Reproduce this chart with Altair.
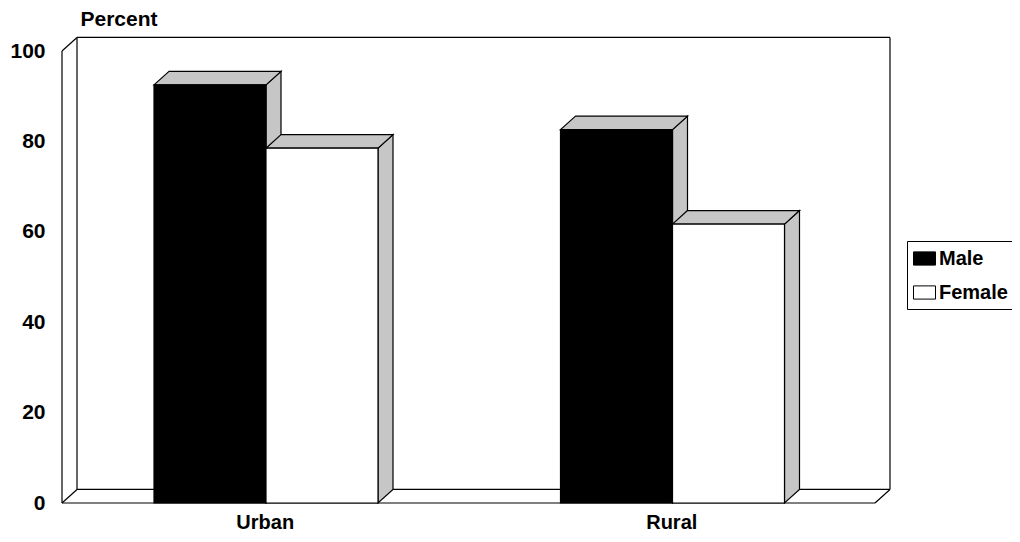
import altair as alt
import pandas as pd

categories = ["Urban", "Rural"]
series = ["Male", "Female"]
male = [92.5, 82.6]
female = [78.5, 61.7]
y_ticks = [0, 20, 40, 60, 80, 100]

FONT = "Liberation Sans"
GRAY = "#c6c6c6"
PX_PER_CAT = 406.5
PX_PER_UNIT = 4.52
PAD_L, PAD_R, PAD_T, PAD_B = 54, 0, 0, 22
W, H = 950, 504
BAR = 112 / PX_PER_CAT
DX = 15 / PX_PER_CAT
DY = 3.0
GAP = 92 / PX_PER_CAT
TOP = 103.0

fronts, sides, tops = [], [], []
for i, cat in enumerate(categories):
    for j, (s, vals) in enumerate(zip(series, [male, female])):
        x0 = i + GAP + j * BAR
        x1 = x0 + BAR
        v = vals[i]
        k = f"{cat}-{s}"
        order = i * 2 + j
        fronts.append(dict(k=k, s=s, x0=x0, x1=x1, v=v, base=0, o=order))
        sides += [
            dict(k=k, x=x1, y=v, y2=0, o=order),
            dict(k=k, x=x1 + DX, y=v + DY, y2=DY, o=order),
        ]
        tops += [
            dict(k=k, y=v, x=x0, x2=x1, o=order),
            dict(k=k, y=v + DY, x=x0 + DX, x2=x1 + DX, o=order),
        ]
fronts = pd.DataFrame(fronts)
sides = pd.DataFrame(sides)
tops = pd.DataFrame(tops)

edges = pd.DataFrame(
    [
        dict(x=0, y=0, x2=0, y2=100),
        dict(x=0, y=100, x2=DX, y2=TOP),
        dict(x=DX, y=TOP, x2=2 + DX, y2=TOP),
        dict(x=DX, y=DY, x2=DX, y2=TOP),
        dict(x=2 + DX, y=DY, x2=2 + DX, y2=TOP),
        dict(x=0, y=0, x2=DX, y2=DY),
        dict(x=DX, y=DY, x2=2 + DX, y2=DY),
        dict(x=0, y=0, x2=2, y2=0),
        dict(x=2, y=0, x2=2 + DX, y2=DY),
    ]
)

xs = alt.Scale(domain=[0, W / PX_PER_CAT], nice=False, zero=False)
ys = alt.Scale(domain=[-9 / PX_PER_UNIT, 495 / PX_PER_UNIT], nice=False, zero=False)

y_axis = alt.Axis(
    values=y_ticks,
    title="Percent",
    titleAngle=0,
    titleAlign="left",
    titleBaseline="middle",
    titleX=18,
    titleY=11,
    titleFont=FONT,
    titleFontSize=21,
    titleFontWeight="bold",
    titleColor="black",
    labelFont=FONT,
    labelFontSize=21,
    labelFontWeight="bold",
    labelColor="black",
    labelPadding=17,
    ticks=False,
    domain=False,
    grid=False,
)


def Y(field):
    return alt.Y(field, scale=ys, axis=y_axis)


def X(field):
    return alt.X(field, scale=xs, axis=None)


wall = (
    alt.Chart(edges)
    .mark_rule(color="black", strokeWidth=1.2)
    .encode(x=X("x:Q"), x2="x2:Q", y=Y("y:Q"), y2="y2:Q")
)

layers = [wall]
for o in range(4):
    f = fronts[fronts.o == o]
    side = (
        alt.Chart(sides[sides.o == o])
        .mark_area(fill=GRAY, stroke="black", strokeWidth=1.2, orient="vertical")
        .encode(x=X("x:Q"), y=Y("y:Q"), y2="y2:Q")
    )
    top = (
        alt.Chart(tops[tops.o == o])
        .mark_area(fill=GRAY, stroke="black", strokeWidth=1.2, orient="horizontal")
        .encode(x=X("x:Q"), x2="x2:Q", y=Y("y:Q"))
    )
    front = (
        alt.Chart(f)
        .mark_bar(stroke="black", strokeWidth=1.2)
        .encode(
            x=X("x0:Q"),
            x2="x1:Q",
            y=Y("v:Q"),
            y2="base:Q",
            color=alt.Color(
                "s:N",
                scale=alt.Scale(domain=series, range=["black", "white"]),
                legend=alt.Legend(
                    title=None,
                    orient="none",
                    legendX=845,
                    legendY=233,
                    padding=6,
                    fillColor="white",
                    strokeColor="black",
                    symbolType="M-1,-0.6H1V0.6H-1Z",
                    symbolSize=484,
                    symbolStrokeColor="black",
                    symbolStrokeWidth=1,
                    labelFont=FONT,
                    labelFontSize=20,
                    labelFontWeight="bold",
                    labelColor="black",
                    labelOffset=3,
                    rowPadding=12,
                    labelLimit=200,
                ),
            ),
        )
    )
    layers += [side, top, front]

labels = pd.DataFrame({"cat": categories, "x": [i + 0.5 for i in range(2)], "y": -4.5})
cat_text = (
    alt.Chart(labels)
    .mark_text(font=FONT, fontSize=20, fontWeight="bold", color="black")
    .encode(x=X("x:Q"), y=Y("y:Q"), text="cat:N")
)
layers.append(cat_text)

chart = (
    alt.layer(*layers)
    .properties(
        width=W,
        height=H,
        autosize=alt.AutoSizeParams(type="none"),
        padding={"left": PAD_L, "right": PAD_R, "top": PAD_T, "bottom": PAD_B},
        background="white",
    )
    .configure_view(stroke=None)
)

chart.save("out.html", embed_options={"renderer": "svg", "actions": False})
